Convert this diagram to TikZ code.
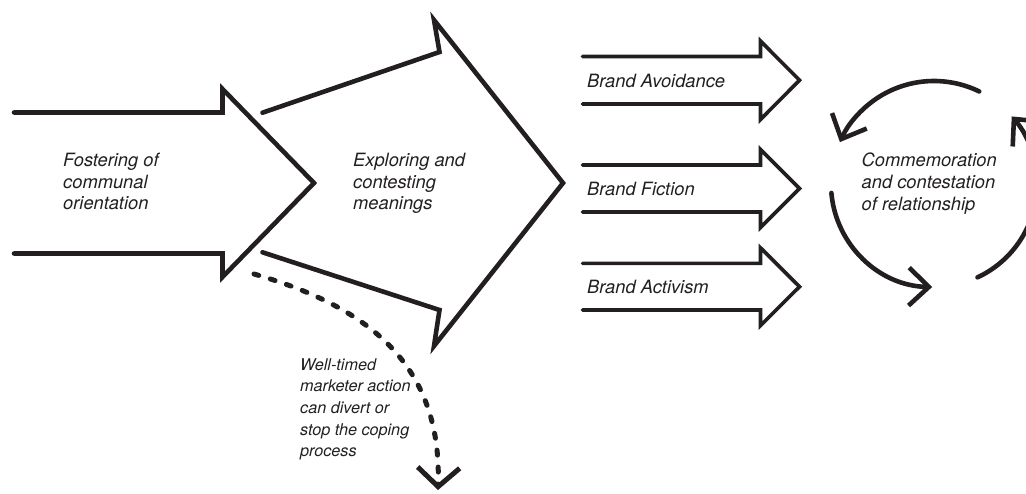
\documentclass[tikz,border=0pt]{standalone}
\usepackage{fontspec}
\setmainfont{TeX Gyre Heros}
\usetikzlibrary{arrows.meta}
\definecolor{ink}{HTML}{231F20}
\begin{document}
\begin{tikzpicture}[x=1pt,y=1pt,
  bigarrow/.style={draw=ink, line width=4.6pt, line cap=round, line join=miter},
  smallarrow/.style={draw=ink, line width=3.6pt, line cap=round, line join=miter},
  cyc/.style={draw=ink, line width=4.6pt, line cap=round, -{Straight Barb[length=20pt,width=38pt]}},
  dashline/.style={draw=ink, line width=5pt, line cap=round, dash pattern=on 5pt off 12pt, -{Straight Barb[length=19pt,width=42pt]}},
  lbl/.style={inner sep=0pt, text=ink, font=\fontsize{18.3}{21.7}\selectfont\itshape, align=left},
  smalllbl/.style={inner sep=0pt, text=ink, font=\fontsize{16.2}{21.7}\selectfont\itshape, align=left}
]
\useasboundingbox (0,0) rectangle (1026,-493);

% arrow 1
\draw[bigarrow] (14,-112.5) -- (222.5,-112.5) -- (222.5,-89) -- (314,-183) -- (222.5,-277) -- (222.5,-253.5) -- (14,-253.5);
% arrow 2
\draw[bigarrow] (262.5,-112.7) -- (439.5,-52) -- (434,-20) -- (563,-183) -- (434,-346) -- (439.5,-310) -- (262.5,-252.3);

% three small arrows
\draw[smallarrow] (582.5,-56.5) -- (760.5,-56.5) -- (760.5,-41) -- (799.5,-80.2) -- (760.5,-119.5) -- (760.5,-104) -- (582.5,-104);
\draw[smallarrow] (582.5,-165) -- (760.5,-165) -- (760.5,-149.5) -- (799.5,-188.5) -- (760.5,-227.5) -- (760.5,-212) -- (582.5,-212);
\draw[smallarrow] (582.5,-263.3) -- (760.5,-263.3) -- (760.5,-247.8) -- (799.5,-286.7) -- (760.5,-325.6) -- (760.5,-310) -- (582.5,-310);

% cycle
\coordinate (cc) at (934,-184);
\draw[cyc] (cc) ++(64:103) arc[start angle=64, end angle=156, radius=103];
\draw[cyc] (cc) ++(185:103) arc[start angle=185, end angle=269, radius=103];
\draw[cyc] (cc) ++(295:103) arc[start angle=295, end angle=401, radius=103];

% dashed divert arrow
\coordinate (divS) at (254,-274);
\coordinate (divE) at (438,-490);
\draw[dashline] (divS) .. controls (365,-306) and (442,-362) .. (divE);

% labels
\node[lbl, anchor=north west] (foster) at (63,-153) {Fostering of\\communal\\orientation};
\node[lbl, anchor=north west] (explore) at (353,-153) {Exploring and\\contesting\\meanings};
\node[lbl, anchor=north west] (commem) at (861.5,-153) {Commemoration\\and contestation\\of relationship};
\node[smalllbl, anchor=north west] (divert) at (300,-358) {Well-timed\\marketer action\\can divert or\\stop the coping\\process};
\node[lbl, anchor=base west] (avoid) at (587,-87) {Brand Avoidance};
\node[lbl, anchor=base west] (fiction) at (587,-195.5) {Brand Fiction};
\node[lbl, anchor=base west] (activ) at (587,-293.5) {Brand Activism};
\end{tikzpicture}
\end{document}
